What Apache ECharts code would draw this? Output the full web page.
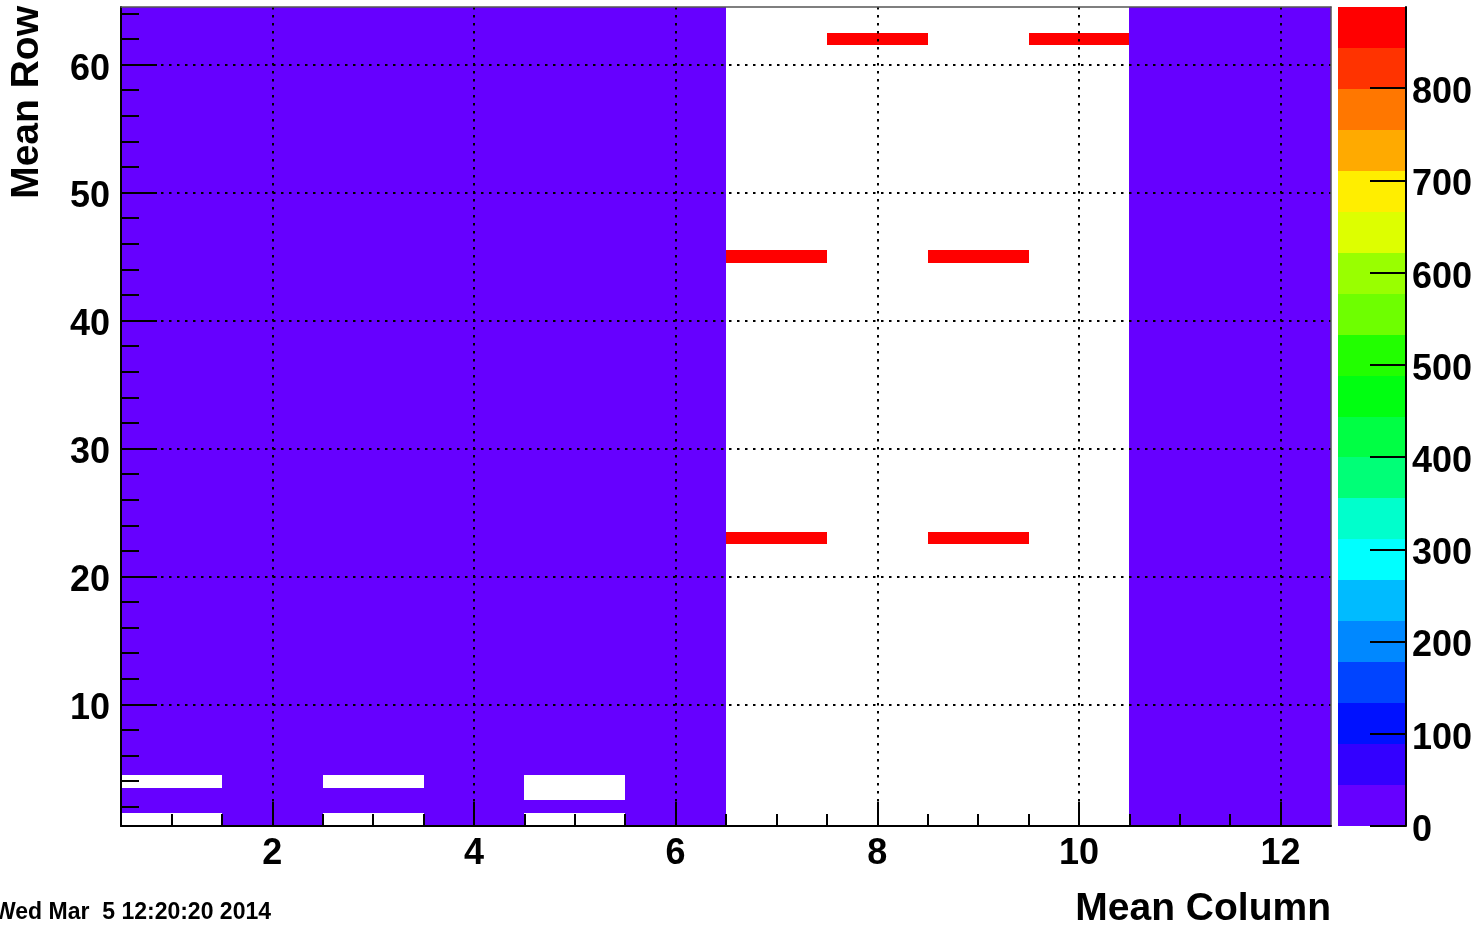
<!DOCTYPE html>
<html><head><meta charset="utf-8">
<script src="https://cdn.jsdelivr.net/npm/echarts@6/dist/echarts.min.js"></script>
<style>html,body{margin:0;padding:0;background:#fff}#c{width:1482px;height:930px}</style>
</head><body><div id="c"></div>
<script>
// ---- data (bin contents) ----
const columns = [1,2,3,4,5,6,7,8,9,10,11,12];
const rows = [64,63,62,61,60,59,58,57,56,55,54,53,52,51,50,49,48,47,46,45,44,43,42,41,40,39,38,37,36,35,34,33,32,31,30,29,28,27,26,25,24,23,22,21,20,19,18,17,16,15,14,13,12,11,10,9,8,7,6,5,4,3,2,1];
const counts = [
 [8,8,8,8,8,8,0,0,0,0,8,8], // 64
 [8,8,8,8,8,8,0,0,0,0,8,8], // 63
 [8,8,8,8,8,8,0,888,0,888,8,8], // 62
 [8,8,8,8,8,8,0,0,0,0,8,8], // 61
 [8,8,8,8,8,8,0,0,0,0,8,8], // 60
 [8,8,8,8,8,8,0,0,0,0,8,8], // 59
 [8,8,8,8,8,8,0,0,0,0,8,8], // 58
 [8,8,8,8,8,8,0,0,0,0,8,8], // 57
 [8,8,8,8,8,8,0,0,0,0,8,8], // 56
 [8,8,8,8,8,8,0,0,0,0,8,8], // 55
 [8,8,8,8,8,8,0,0,0,0,8,8], // 54
 [8,8,8,8,8,8,0,0,0,0,8,8], // 53
 [8,8,8,8,8,8,0,0,0,0,8,8], // 52
 [8,8,8,8,8,8,0,0,0,0,8,8], // 51
 [8,8,8,8,8,8,0,0,0,0,8,8], // 50
 [8,8,8,8,8,8,0,0,0,0,8,8], // 49
 [8,8,8,8,8,8,0,0,0,0,8,8], // 48
 [8,8,8,8,8,8,0,0,0,0,8,8], // 47
 [8,8,8,8,8,8,0,0,0,0,8,8], // 46
 [8,8,8,8,8,8,888,0,888,0,8,8], // 45
 [8,8,8,8,8,8,0,0,0,0,8,8], // 44
 [8,8,8,8,8,8,0,0,0,0,8,8], // 43
 [8,8,8,8,8,8,0,0,0,0,8,8], // 42
 [8,8,8,8,8,8,0,0,0,0,8,8], // 41
 [8,8,8,8,8,8,0,0,0,0,8,8], // 40
 [8,8,8,8,8,8,0,0,0,0,8,8], // 39
 [8,8,8,8,8,8,0,0,0,0,8,8], // 38
 [8,8,8,8,8,8,0,0,0,0,8,8], // 37
 [8,8,8,8,8,8,0,0,0,0,8,8], // 36
 [8,8,8,8,8,8,0,0,0,0,8,8], // 35
 [8,8,8,8,8,8,0,0,0,0,8,8], // 34
 [8,8,8,8,8,8,0,0,0,0,8,8], // 33
 [8,8,8,8,8,8,0,0,0,0,8,8], // 32
 [8,8,8,8,8,8,0,0,0,0,8,8], // 31
 [8,8,8,8,8,8,0,0,0,0,8,8], // 30
 [8,8,8,8,8,8,0,0,0,0,8,8], // 29
 [8,8,8,8,8,8,0,0,0,0,8,8], // 28
 [8,8,8,8,8,8,0,0,0,0,8,8], // 27
 [8,8,8,8,8,8,0,0,0,0,8,8], // 26
 [8,8,8,8,8,8,0,0,0,0,8,8], // 25
 [8,8,8,8,8,8,0,0,0,0,8,8], // 24
 [8,8,8,8,8,8,888,0,888,0,8,8], // 23
 [8,8,8,8,8,8,0,0,0,0,8,8], // 22
 [8,8,8,8,8,8,0,0,0,0,8,8], // 21
 [8,8,8,8,8,8,0,0,0,0,8,8], // 20
 [8,8,8,8,8,8,0,0,0,0,8,8], // 19
 [8,8,8,8,8,8,0,0,0,0,8,8], // 18
 [8,8,8,8,8,8,0,0,0,0,8,8], // 17
 [8,8,8,8,8,8,0,0,0,0,8,8], // 16
 [8,8,8,8,8,8,0,0,0,0,8,8], // 15
 [8,8,8,8,8,8,0,0,0,0,8,8], // 14
 [8,8,8,8,8,8,0,0,0,0,8,8], // 13
 [8,8,8,8,8,8,0,0,0,0,8,8], // 12
 [8,8,8,8,8,8,0,0,0,0,8,8], // 11
 [8,8,8,8,8,8,0,0,0,0,8,8], // 10
 [8,8,8,8,8,8,0,0,0,0,8,8], // 9
 [8,8,8,8,8,8,0,0,0,0,8,8], // 8
 [8,8,8,8,8,8,0,0,0,0,8,8], // 7
 [8,8,8,8,8,8,0,0,0,0,8,8], // 6
 [8,8,8,8,8,8,0,0,0,0,8,8], // 5
 [0,8,0,8,0,8,0,0,0,0,8,8], // 4
 [8,8,8,8,0,8,0,0,0,0,8,8], // 3
 [8,8,8,8,8,8,0,0,0,0,8,8], // 2
 [0,8,0,8,0,8,0,0,0,0,8,8]  // 1
];
const xMajorTicks = [2,4,6,8,10,12];
const xMinorTicks = [1,1.5,2.5,3,3.5,4.5,5,5.5,6.5,7,7.5,8.5,9,9.5,10.5,11,11.5];
const yMajorTicks = [10,20,30,40,50,60];
const yMinorTicks = [2,4,6,8,12,14,16,18,22,24,26,28,32,34,36,38,42,44,46,48,52,54,56,58,62,64];
const zTicks = [0,100,200,300,400,500,600,700,800];
const zMax = 888;
const palette = ['#6600ff','#3300ff','#0011ff','#0044ff','#0088ff','#00bbff','#00ffff','#00ffcc','#00ff77','#00ff44',
                 '#00ff11','#22ff00','#6eff00','#99ff00','#ddff00','#ffee00','#ffaa00','#ff7700','#ff3300','#ff0000'];
const xTitle = 'Mean Column';
const yTitle = 'Mean Row';
const dateText = 'Wed Mar  5 12:20:20 2014';

// ---- build ----
const FONT = 'Liberation Sans';
const cells = [];
rows.forEach((r, i) => columns.forEach((c, j) => { if (counts[i][j] > 0) cells.push([c, r, counts[i][j]]); }));
const step = zMax / palette.length;
const pieces = palette.map((col, k) => ({ gte: k * step, lt: (k + 1) * step, color: col }));
pieces[pieces.length - 1].lte = zMax; delete pieces[pieces.length - 1].lt;
const bands = palette.map((col, k) => [k * step, (k + 1) * step, k]);

const chart = echarts.init(document.getElementById('c'), null, { renderer: 'canvas' });
const black = '#000';
const labelStyle = { fontFamily: FONT, fontWeight: 'bold', fontSize: 36, color: black };

chart.setOption({
  animation: false,
  backgroundColor: '#fff',
  grid: [
    { left: 121, top: 7, width: 1210, height: 819, show: false },
    { left: 1338, top: 7, width: 68, height: 819, show: false }
  ],
  visualMap: { type: 'piecewise', show: false, seriesIndex: 0, dimension: 2, pieces: pieces },
  xAxis: [
    { gridIndex: 0, type: 'value', min: 0.5, max: 12.5, position: 'bottom', z: 10,
      axisLine: { onZero: false, lineStyle: { color: black, width: 2 } },
      axisTick: { inside: true, length: 24, customValues: xMajorTicks, lineStyle: { color: black, width: 2 } },
      axisLabel: Object.assign({ customValues: xMajorTicks, margin: 10 }, labelStyle),
      splitLine: { show: true, lineStyle: { color: black, width: 2, type: [2.5, 5.5] } } },
    { gridIndex: 0, type: 'value', min: 0.5, max: 12.5, position: 'bottom', z: 10,
      axisLine: { show: false, onZero: false },
      axisTick: { inside: true, length: 12, customValues: xMinorTicks, lineStyle: { color: black, width: 2 } },
      axisLabel: { show: false }, splitLine: { show: false } },
    { gridIndex: 0, type: 'value', min: 0.5, max: 12.5, position: 'top', z: 10,
      axisLine: { onZero: false, lineStyle: { color: '#555', width: 1.5 } },
      axisTick: { show: false }, axisLabel: { show: false }, splitLine: { show: false } },
    { gridIndex: 1, type: 'value', min: 0, max: 1, show: false }
  ],
  yAxis: [
    { gridIndex: 0, type: 'value', min: 0.5, max: 64.5, position: 'left', z: 10,
      axisLine: { onZero: false, lineStyle: { color: black, width: 2 } },
      axisTick: { inside: true, length: 36, customValues: yMajorTicks, lineStyle: { color: black, width: 2 } },
      axisLabel: Object.assign({ customValues: yMajorTicks, margin: 11, verticalAlign: 'top', lineHeight: 10 }, labelStyle),
      splitLine: { show: true, lineStyle: { color: black, width: 2, type: [2.5, 5.5] } } },
    { gridIndex: 0, type: 'value', min: 0.5, max: 64.5, position: 'left', z: 10,
      axisLine: { show: false, onZero: false },
      axisTick: { inside: true, length: 18, customValues: yMinorTicks, lineStyle: { color: black, width: 2 } },
      axisLabel: { show: false }, splitLine: { show: false } },
    { gridIndex: 0, type: 'value', min: 0.5, max: 64.5, position: 'right', z: 10,
      axisLine: { onZero: false, lineStyle: { color: '#555', width: 1.5 } },
      axisTick: { show: false }, axisLabel: { show: false }, splitLine: { show: false } },
    { gridIndex: 1, type: 'value', min: 0, max: zMax, position: 'right', z: 10,
      axisLine: { onZero: false, lineStyle: { color: black, width: 2 } },
      axisTick: { inside: true, length: 36, customValues: zTicks, lineStyle: { color: black, width: 2 } },
      axisLabel: Object.assign({ customValues: zTicks, margin: 6, verticalAlign: 'top', lineHeight: 10 }, labelStyle),
      splitLine: { show: false } }
  ],
  series: [
    { type: 'custom', xAxisIndex: 0, yAxisIndex: 0, clip: true, data: cells,
      renderItem: function (params, api) {
        const x = api.value(0), y = api.value(1);
        const p1 = api.coord([x - 0.5, y + 0.5]);
        const p2 = api.coord([x + 0.5, y - 0.5]);
        const x0 = Math.round(p1[0]), y0 = Math.round(p1[1]);
        const x1 = Math.round(p2[0]), y1 = Math.round(p2[1]);
        return { type: 'rect', shape: { x: x0, y: y0, width: x1 - x0, height: y1 - y0 },
                 style: { fill: api.visual('color') } };
      } },
    { type: 'custom', xAxisIndex: 3, yAxisIndex: 3, data: bands,
      renderItem: function (params, api) {
        const p1 = api.coord([0, api.value(1)]);
        const p2 = api.coord([1, api.value(0)]);
        const x0 = Math.round(p1[0]), y0 = Math.round(p1[1]);
        const x1 = Math.round(p2[0]), y1 = Math.round(p2[1]);
        return { type: 'rect', shape: { x: x0, y: y0, width: x1 - x0, height: y1 - y0 },
                 style: { fill: palette[api.value(2)] } };
      } }
  ],
  graphic: [
    { type: 'text', right: 151, top: 890, style: { text: xTitle, font: 'bold 39px "' + FONT + '"', fill: black } },
    { type: 'text', x: 27, y: 6, rotation: Math.PI / 2,
      style: { text: yTitle, font: 'bold 39px "' + FONT + '"', fill: black, align: 'right', verticalAlign: 'middle' } },
    { type: 'text', x: -6, y: 913,
      style: { text: dateText, font: 'bold 23px "' + FONT + '"', fill: black, align: 'left', verticalAlign: 'middle' } }
  ]
});
</script></body></html>
